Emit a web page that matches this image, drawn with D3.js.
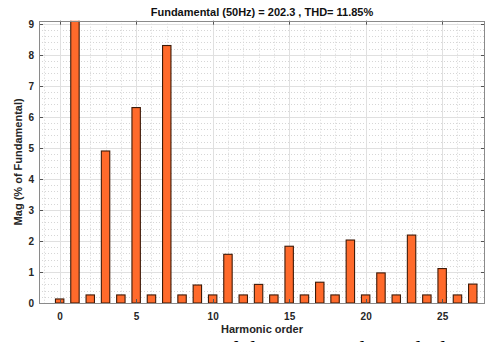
<!DOCTYPE html>
<html><head><meta charset="utf-8">
<script src="https://cdn.jsdelivr.net/npm/d3@7"></script>
<style>body{margin:0;background:#fff;} svg{display:block;}</style>
</head><body><svg id="c" width="486" height="342"></svg>
<script>
const harmonicOrder = [0,1,2,3,4,5,6,7,8,9,10,11,12,13,14,15,16,17,18,19,20,21,22,23,24,25,26,27];
const magnitude = [0.13,100,0.26,4.9,0.26,6.3,0.26,8.3,0.26,0.58,0.26,1.57,0.26,0.6,0.26,1.83,0.26,0.67,0.26,2.03,0.26,0.97,0.26,2.19,0.26,1.11,0.26,0.61];
const xTicks = [0,5,10,15,20,25];
const yTicks = [0,1,2,3,4,5,6,7,8,9];
const xMinor = [-1,1,2,3,4,6,7,8,9,11,12,13,14,16,17,18,19,21,22,23,24,26,27];
const yMinorStep = 0.2;
const titleText = "Fundamental (50Hz) = 202.3 , THD= 11.85%";
const xLabelText = "Harmonic order";
const yLabelText = "Mag (% of Fundamental)";
const captionText = "15. FFT investigation of the current through the MV";

const L=39, R=485, T=20.7, B=303;
const svg = d3.select("#c");
const x = d3.scaleLinear().domain([-1.35, 27.8]).range([L, R]);
const y = d3.scaleLinear().domain([0, 9.1]).range([B, T]);
const font = "'Liberation Sans', Arial, sans-serif";

svg.append("defs").append("clipPath").attr("id","clip")
  .append("rect").attr("x",L).attr("y",T).attr("width",R-L).attr("height",B-T);

// minor grid
const yMinor = d3.range(0, 9.1, yMinorStep).filter(v => Math.abs(v - Math.round(v)) > 1e-6);
const g = svg.append("g").attr("clip-path","url(#clip)");
g.selectAll(".mx").data(xMinor).join("line")
  .attr("x1", d=>Math.round(x(d))+0.5).attr("x2", d=>Math.round(x(d))+0.5)
  .attr("y1", T).attr("y2", B)
  .attr("stroke","#d6d6d6").attr("stroke-dasharray","1,2");
g.selectAll(".my").data(yMinor).join("line")
  .attr("y1", d=>Math.round(y(d))+0.5).attr("y2", d=>Math.round(y(d))+0.5)
  .attr("x1", L).attr("x2", R)
  .attr("stroke","#d6d6d6").attr("stroke-dasharray","1,2");
// major grid
g.selectAll(".gx").data(xTicks).join("line")
  .attr("x1", d=>Math.round(x(d))+0.5).attr("x2", d=>Math.round(x(d))+0.5)
  .attr("y1", T).attr("y2", B).attr("stroke","#e0e0e0");
g.selectAll(".gy").data(yTicks).join("line")
  .attr("y1", d=>Math.round(y(d))+0.5).attr("y2", d=>Math.round(y(d))+0.5)
  .attr("x1", L).attr("x2", R).attr("stroke","#e0e0e0");

// bars
const bw = 0.55;
g.selectAll(".bar").data(harmonicOrder).join("rect")
  .attr("x", d => x(d - bw/2))
  .attr("width", x(bw) - x(0))
  .attr("y", (d,i) => y(Math.min(magnitude[i], 9.3)))
  .attr("height", (d,i) => y(0) - y(Math.min(magnitude[i], 9.3)))
  .attr("fill","#ff6a2b").attr("stroke","#3d1a08").attr("stroke-width",1.1);

// axes
const tickCol = "#262626";
const ax = svg.append("g").attr("transform",`translate(0,${B})`)
  .call(d3.axisBottom(x).tickValues(xTicks).tickSize(0).tickPadding(10).tickFormat(d3.format("d")));
ax.select(".domain").remove();
ax.selectAll("text").attr("font-family",font).attr("font-size",10).attr("font-weight","bold").attr("fill",tickCol);
const ay = svg.append("g").attr("transform",`translate(${L},0)`)
  .call(d3.axisLeft(y).tickValues(yTicks).tickSize(0).tickPadding(5).tickFormat(d3.format("d")));
ay.select(".domain").remove();
ay.selectAll("text").attr("font-family",font).attr("font-size",10).attr("font-weight","bold").attr("fill",tickCol);

// inward ticks
const tk = svg.append("g").attr("stroke","#555").attr("stroke-width",1);
xTicks.forEach(v => {
  const xp = Math.round(x(v))+0.5;
  tk.append("line").attr("x1",xp).attr("x2",xp).attr("y1",B).attr("y2",B-4);
  tk.append("line").attr("x1",xp).attr("x2",xp).attr("y1",T).attr("y2",T+4);
});
yTicks.forEach(v => {
  const yp = Math.round(y(v))+0.5;
  tk.append("line").attr("x1",L).attr("x2",L+4).attr("y1",yp).attr("y2",yp);
  tk.append("line").attr("x1",R).attr("x2",R-4).attr("y1",yp).attr("y2",yp);
});

// box
svg.append("rect").attr("x",L+0.5).attr("y",Math.round(T)+0.5).attr("width",R-L-1).attr("height",B-Math.round(T))
  .attr("fill","none").attr("stroke","#8a8a8a").attr("stroke-width",1);

// texts
svg.append("text").attr("x",(L+R)/2).attr("y",15.5).attr("text-anchor","middle")
  .attr("font-family",font).attr("font-size",11).attr("font-weight","bold").attr("fill","#111").text(titleText);
svg.append("text").attr("x",(L+R)/2).attr("y",333).attr("text-anchor","middle")
  .attr("font-family",font).attr("font-size",11).attr("font-weight","bold").attr("fill","#262626").text(xLabelText);
svg.append("text").attr("transform",`translate(22,${(T+B)/2}) rotate(-90)`).attr("text-anchor","middle")
  .attr("font-family",font).attr("font-size",11).attr("font-weight","bold").attr("fill","#262626").text(yLabelText);
svg.append("text").attr("x",5).attr("y",356.5)
  .attr("font-family","'Liberation Serif', 'Times New Roman', serif").attr("font-size",24).attr("fill","#000").text(captionText);
</script></body></html>
